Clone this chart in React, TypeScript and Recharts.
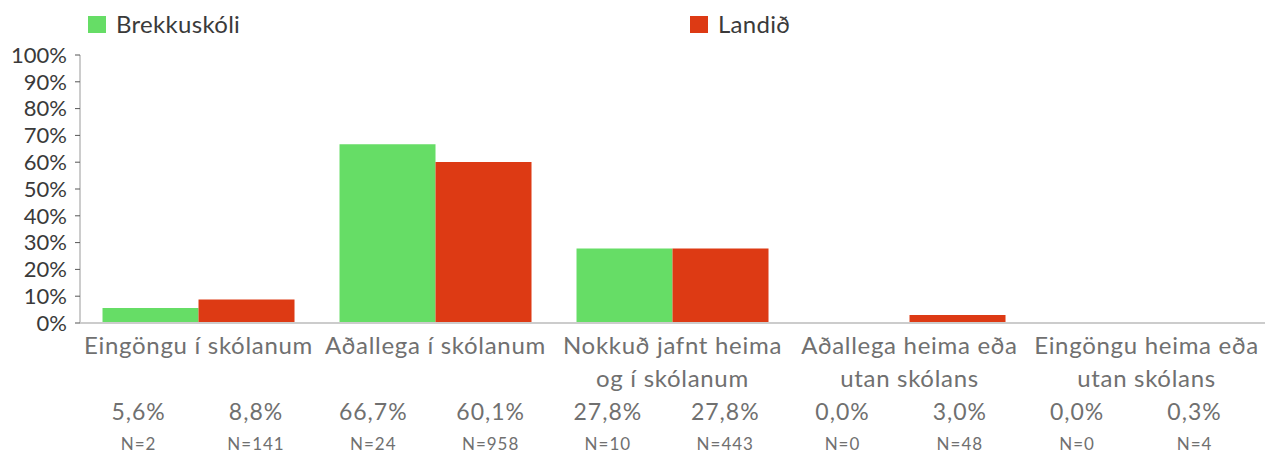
import React from "react"
import { BarChart, Bar, XAxis, YAxis, Legend } from "recharts"

// categories, split into lines the way they are printed
const categories = [
  "Eingöngu í skólanum",
  "Aðallega í skólanum",
  "Nokkuð jafnt heima og í skólanum",
  "Aðallega heima eða utan skólans",
  "Eingöngu heima eða utan skólans",
]
const categoryLines = [
  ["Eingöngu í skólanum"],
  ["Aðallega í skólanum"],
  ["Nokkuð jafnt heima", "og í skólanum"],
  ["Aðallega heima eða", "utan skólans"],
  ["Eingöngu heima eða", "utan skólans"],
]

const schoolPct = [5.6, 66.7, 27.8, 0.0, 0.0]
const countryPct = [8.8, 60.1, 27.8, 3.0, 0.3]
const schoolN = [2, 24, 10, 0, 0]
const countryN = [141, 958, 443, 48, 4]

const yTicks = [0, 10, 20, 30, 40, 50, 60, 70, 80, 90, 100]

const GREEN = "#66dd66"
const RED = "#dd3a14"
const FONT = "Lato, 'Noto Sans', sans-serif"

const data = categories.map((c, i) => ({
  category: c,
  school: schoolPct[i],
  country: countryPct[i],
}))

const fmt = (v: number) => v.toFixed(1).replace(".", ",") + "%"

function CategoryTick(props: any) {
  const { x, y, payload } = props
  const i = payload.index
  const lines = categoryLines[i]
  // value table columns are a touch narrower than the bands
  const cx = 80 + (x - 80) * 0.99
  const off = 58.7
  return (
    <g fontFamily={FONT} fill="#707070">
      {lines.map((l, k) => (
        <text key={k} x={x} y={y + 21 + k * 33} textAnchor="middle" dominantBaseline="central" fontSize={24} letterSpacing={0.7}>
          {l}
        </text>
      ))}
      <text x={cx - off} y={y + 88} textAnchor="middle" dominantBaseline="central" fontSize={23} letterSpacing={1}>
        {fmt(schoolPct[i])}
      </text>
      <text x={cx + off} y={y + 88} textAnchor="middle" dominantBaseline="central" fontSize={23} letterSpacing={1}>
        {fmt(countryPct[i])}
      </text>
      <text x={cx - off} y={y + 120} textAnchor="middle" dominantBaseline="central" fontSize={17} letterSpacing={1}>
        {"N=" + schoolN[i]}
      </text>
      <text x={cx + off} y={y + 120} textAnchor="middle" dominantBaseline="central" fontSize={17} letterSpacing={1}>
        {"N=" + countryN[i]}
      </text>
    </g>
  )
}

function TopLegend() {
  const items = [
    { label: "Brekkuskóli", color: GREEN, left: 88 },
    { label: "Landið", color: RED, left: 690 },
  ]
  return (
    <div style={{ position: "relative", height: 0, fontFamily: FONT }}>
      {items.map((it) => (
        <div key={it.label} style={{ position: "absolute", left: it.left, top: 12, display: "flex", alignItems: "center", whiteSpace: "nowrap" }}>
          <span style={{ width: 18, height: 17, background: it.color, display: "inline-block", marginRight: 10 }} />
          <span style={{ fontSize: 24, color: "#3a3a3a", lineHeight: "24px", letterSpacing: 0.3 }}>{it.label}</span>
        </div>
      ))}
    </div>
  )
}

export default function App() {
  return (
    <div style={{ width: 1265, height: 452 }}>
      <style>{"body{margin:0;background:#fff}"}</style>
      <BarChart
        width={1265}
        height={452}
        data={data}
        margin={{ top: 55, right: 0, left: 0, bottom: 0 }}
        barCategoryGap="9.5%"
        barGap={0}
      >
        <Legend verticalAlign="top" content={<TopLegend />} wrapperStyle={{ top: 0, left: 0, width: 1265, height: 0 }} />
        <XAxis
          dataKey="category"
          interval={0}
          height={129}
          tickLine={false}
          tickSize={0}
          tickMargin={0}
          axisLine={{ stroke: "#cccccc", strokeWidth: 2 }}
          tick={<CategoryTick />}
        />
        <YAxis
          width={80}
          domain={[0, 100]}
          ticks={yTicks}
          interval={0}
          tickFormatter={(v: number) => v + "%"}
          tickSize={5}
          tickMargin={8}
          tickLine={{ stroke: "#555555" }}
          axisLine={{ stroke: "#cccccc", strokeWidth: 2 }}
          tick={{ fontSize: 22, fill: "#3a3a3a", fontFamily: FONT }}
        />
        <Bar dataKey="school" name="Brekkuskóli" fill={GREEN} isAnimationActive={false} />
        <Bar dataKey="country" name="Landið" fill={RED} isAnimationActive={false} />
      </BarChart>
    </div>
  )
}
